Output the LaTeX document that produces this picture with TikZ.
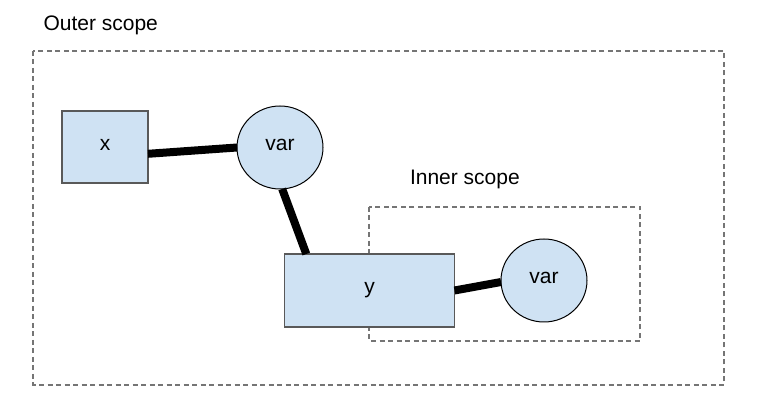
\documentclass[tikz,border=0pt]{standalone}
\usepackage{fontspec}
\setmainfont{Liberation Sans}
\usetikzlibrary{shapes.geometric}
\definecolor{nodefill}{HTML}{CFE2F3}
\definecolor{rectborder}{HTML}{595959}
\definecolor{dashgray}{HTML}{757575}
\begin{document}
\begin{tikzpicture}[x=1pt,y=-1pt,
  every node/.style={font=\fontsize{21}{25}\selectfont, inner sep=0pt, outer sep=0pt},
  boxnode/.style={draw=rectborder, fill=nodefill, line width=1.3pt, rectangle,
    text height=0.9em, text depth=0.21em},
  varnode/.style={draw=black, fill=nodefill, line width=1pt, ellipse,
    minimum width=86pt, minimum height=83pt, text height=0.7em, text depth=0em},
  scopebox/.style={draw=dashgray, line width=1.5pt, dash pattern=on 5pt off 3.5pt},
  link/.style={draw=black, line width=8pt}
]
\useasboundingbox[fill=white] (0,0) rectangle (758,411);
% scopes
\draw[scopebox] (33,51) rectangle (724,385);
\draw[scopebox] (369,207) rectangle (640,341);
\node[anchor=base west] (outerlbl) at (43.5,30.5) {Outer scope};
\node[anchor=base west] (innerlbl) at (410,185) {Inner scope};
% nodes
\node[boxnode, minimum width=86pt, minimum height=72pt] (x) at (105,147) {x};
\node[varnode] (var1) at (280,147.5) {var};
\node[boxnode, minimum width=170pt, minimum height=73pt] (y) at (369.5,290.5) {y};
\node[varnode] (var2) at (544,280.5) {var};
% connectors
\draw[link] (x.-9) -- (var1.180);
\draw[link] (var1.-87) -- (y.150);
\draw[link] (y.0) -- (var2.182);
\end{tikzpicture}
\end{document}
